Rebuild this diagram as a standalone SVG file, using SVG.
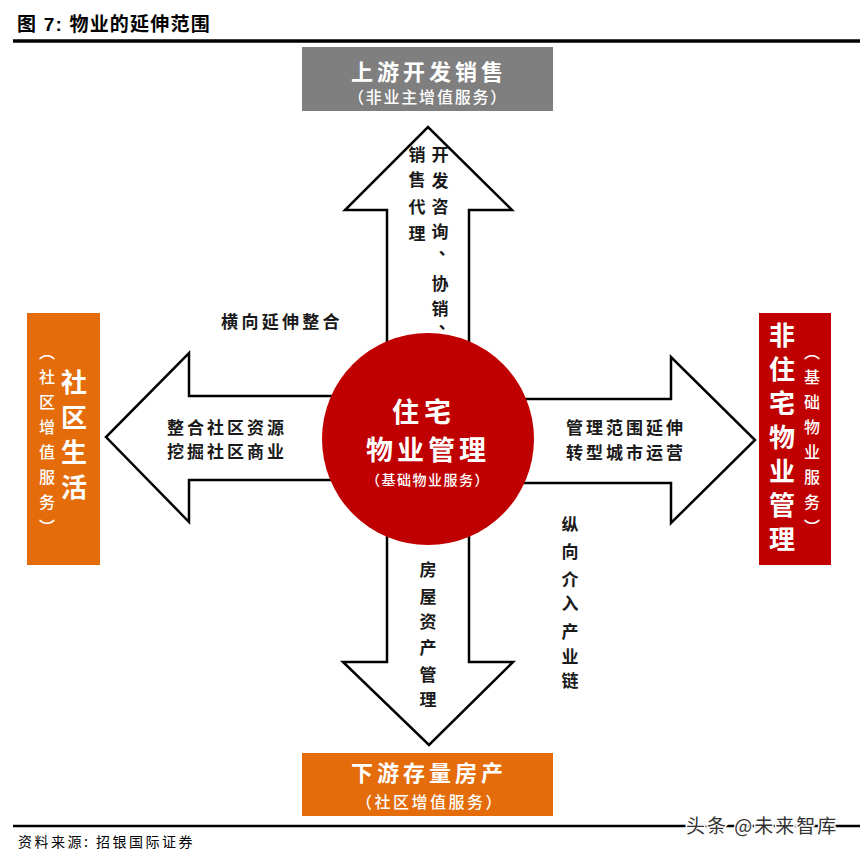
<svg xmlns="http://www.w3.org/2000/svg" width="864" height="859" viewBox="0 0 864 859">
<style>
.t{font-family:"Noto Sans CJK SC","Noto Sans CJK TC",sans-serif;}
.lbl{font-family:"Noto Sans CJK SC",sans-serif;font-size:17px;font-weight:700;fill:#1a1a1a;}
.vl{font-family:"Noto Sans CJK SC",sans-serif;font-size:17px;font-weight:700;fill:#1a1a1a;text-anchor:middle;}
.wt{font-family:"Noto Sans CJK SC",sans-serif;fill:#ffffff;text-anchor:middle;}
.arrow{fill:#ffffff;stroke:#000000;stroke-width:2.5;stroke-linejoin:miter;}
</style>
<rect width="864" height="859" fill="#ffffff"/>

<!-- title -->
<text x="17" y="31" font-family="'Liberation Sans','Noto Sans CJK SC',sans-serif" font-size="19" font-weight="700" letter-spacing="1.2" fill="#000">图 7: 物业的延伸范围</text>
<line x1="13" y1="41" x2="860" y2="41" stroke="#000" stroke-width="3.5"/>

<!-- connectors -->
<g id="connectors">
  <polygon class="arrow" points="387,439 387,210 345,210 428,127 512,210 469,210 469,439"/>
  <polygon class="arrow" points="387,439 387,662 343,662 429,745 513,662 469,662 469,439"/>
  <polygon class="arrow" points="428,396 189,396 189,353 106,437 189,522 189,480 428,480"/>
  <polygon class="arrow" points="428,399 671,399 671,357 755,440 671,523 671,483 428,483"/>
</g>

<!-- arrow labels -->
<g id="label-up">
  <text class="vl"><tspan x="417" y="161">销</tspan><tspan x="417" y="186">售</tspan><tspan x="417" y="213">代</tspan><tspan x="417" y="240">理</tspan></text>
  <text class="vl"><tspan x="440" y="161">开</tspan><tspan x="440" y="187">发</tspan><tspan x="440" y="213">咨</tspan><tspan x="440" y="238">询</tspan></text>
  <text class="vl" x="437" y="265">︑</text>
  <text class="vl"><tspan x="440" y="290">协</tspan><tspan x="440" y="315">销</tspan></text>
  <text class="vl" x="437" y="339">︑</text>
</g>
<g id="label-left">
  <text class="lbl" x="282" y="328" text-anchor="middle" letter-spacing="3.3">横向延伸整合</text>
  <text class="lbl" x="227" y="434" text-anchor="middle" letter-spacing="3">整合社区资源</text>
  <text class="lbl" x="227" y="458" text-anchor="middle" letter-spacing="3">挖掘社区商业</text>
</g>
<g id="label-right">
  <text class="lbl" x="626" y="434" text-anchor="middle" letter-spacing="3">管理范围延伸</text>
  <text class="lbl" x="626" y="459" text-anchor="middle" letter-spacing="3">转型城市运营</text>
  <text class="vl"><tspan x="570" y="531">纵</tspan><tspan x="570" y="558">向</tspan><tspan x="570" y="586">介</tspan><tspan x="570" y="610">入</tspan><tspan x="570" y="638">产</tspan><tspan x="570" y="663">业</tspan><tspan x="570" y="687">链</tspan></text>
</g>
<g id="label-down">
  <text class="vl"><tspan x="428" y="576">房</tspan><tspan x="428" y="603">屋</tspan><tspan x="428" y="628">资</tspan><tspan x="428" y="654">产</tspan><tspan x="428" y="681">管</tspan><tspan x="428" y="706">理</tspan></text>
</g>

<!-- center node -->
<g id="node-center">
  <circle cx="428" cy="439" r="106" fill="#C00000"/>
  <text class="wt" x="424" y="422" font-size="27" font-weight="700" letter-spacing="5">住宅</text>
  <text class="wt" x="428" y="460" font-size="27" font-weight="700" letter-spacing="4">物业管理</text>
  <text class="wt" x="428" y="485" font-size="14" font-weight="500" letter-spacing="1.5">（基础物业服务）</text>
</g>

<!-- top node -->
<g id="node-top">
  <rect x="302" y="47" width="251" height="64" fill="#7F7F7F"/>
  <text class="wt" x="429" y="80" font-size="22" font-weight="700" letter-spacing="4">上游开发销售</text>
  <text class="wt" x="428" y="103" font-size="16" font-weight="500" letter-spacing="1.8">（非业主增值服务）</text>
</g>

<!-- bottom node -->
<g id="node-bottom">
  <rect x="302" y="753" width="251" height="63" fill="#E46C0A"/>
  <text class="wt" x="429" y="781" font-size="22" font-weight="700" letter-spacing="4">下游存量房产</text>
  <text class="wt" x="430" y="808" font-size="16" font-weight="500" letter-spacing="2.5">（社区增值服务）</text>
</g>

<!-- left node -->
<g id="node-left">
  <rect x="27" y="313" width="73" height="252" fill="#E46C0A"/>
  <text class="wt" font-size="26" font-weight="700"><tspan x="74" y="392">社</tspan><tspan x="74" y="427">区</tspan><tspan x="74" y="462">生</tspan><tspan x="74" y="497">活</tspan></text>
  <text class="wt" font-size="16" font-weight="500"><tspan x="47" y="358">︵</tspan><tspan x="47" y="383">社</tspan><tspan x="47" y="408">区</tspan><tspan x="47" y="433">增</tspan><tspan x="47" y="458">值</tspan><tspan x="47" y="483">服</tspan><tspan x="47" y="508">务</tspan><tspan x="47" y="533">︶</tspan></text>
</g>

<!-- right node -->
<g id="node-right">
  <rect x="759" y="313" width="72" height="252" fill="#C00000"/>
  <text class="wt" font-size="26" font-weight="700"><tspan x="782" y="345">非</tspan><tspan x="782" y="379">住</tspan><tspan x="782" y="413">宅</tspan><tspan x="782" y="447">物</tspan><tspan x="782" y="481">业</tspan><tspan x="782" y="515">管</tspan><tspan x="782" y="549">理</tspan></text>
  <text class="wt" font-size="16" font-weight="500"><tspan x="812" y="358">︵</tspan><tspan x="812" y="383">基</tspan><tspan x="812" y="408">础</tspan><tspan x="812" y="433">物</tspan><tspan x="812" y="458">业</tspan><tspan x="812" y="483">服</tspan><tspan x="812" y="508">务</tspan><tspan x="812" y="533">︶</tspan></text>
</g>

<!-- footer -->
<line x1="13" y1="826" x2="860" y2="826" stroke="#000" stroke-width="2.5"/>
<text x="18" y="847" font-family="'Noto Sans CJK SC',sans-serif" font-size="14" letter-spacing="2.5" fill="#000">资料来源: 招银国际证券</text>
<text x="686" y="833" font-family="'Noto Sans CJK SC',sans-serif" font-size="19" letter-spacing="2" fill="#333" stroke="#ffffff" stroke-width="3" paint-order="stroke">头条 @未来智库</text>
</svg>
